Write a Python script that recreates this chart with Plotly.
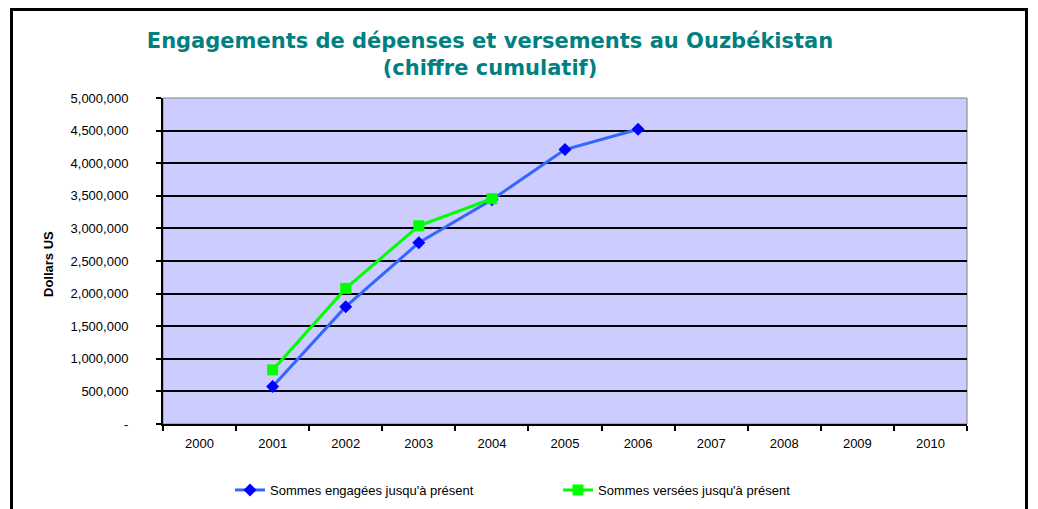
import plotly.graph_objects as go

# ── Data ──────────────────────────────────────────────────────────────────────
YEARS = ["2000", "2001", "2002", "2003", "2004", "2005",
         "2006", "2007", "2008", "2009", "2010"]

ENGAGED_YEARS = ["2001", "2002", "2003", "2004", "2005", "2006"]
ENGAGED = [575000, 1800000, 2780000, 3440000, 4210000, 4520000]

PAID_YEARS = ["2001", "2002", "2003", "2004"]
PAID = [830000, 2080000, 3040000, 3455000]

Y_TICKS = [0, 500000, 1000000, 1500000, 2000000, 2500000,
           3000000, 3500000, 4000000, 4500000, 5000000]
Y_LABELS = ["-"] + [f"{v:,}" for v in Y_TICKS[1:]]

TITLE = "Engagements de dépenses et versements au Ouzbékistan<br>(chiffre cumulatif)"

# ── Styling ───────────────────────────────────────────────────────────────────
TEAL = "#008080"
PLOT_BG = "#CCCCFF"
FONT = "Liberation Sans, Arial, sans-serif"

W, H = 1038, 509
L, R, T, B = 163, 71, 98, 85
PW, PH = W - L - R, H - T - B


def px_x(x):
    return (x - L) / PW


def px_y(y):
    return (H - B - y) / PH


fig = go.Figure()

fig.add_trace(go.Scatter(
    x=ENGAGED_YEARS, y=ENGAGED,
    mode="lines+markers",
    line=dict(color="#3366FF", width=3),
    marker=dict(symbol="diamond", size=10, color="#0000FF"),
    name="Sommes engagées jusqu'à présent",
))

fig.add_trace(go.Scatter(
    x=PAID_YEARS, y=PAID,
    mode="lines+markers",
    line=dict(color="#00FF00", width=3),
    marker=dict(symbol="square", size=11, color="#00FF00"),
    name="Sommes versées jusqu'à présent",
))

# ── Frame around the chart + plot area border ─────────────────────────────────
fig.add_shape(
    type="rect", xref="paper", yref="paper",
    x0=px_x(11.5), x1=px_x(1026.5), y0=px_y(530), y1=px_y(9.5),
    line=dict(color="black", width=3), layer="below",
)
fig.add_shape(
    type="rect", xref="paper", yref="paper",
    x0=0, x1=1, y0=0, y1=1,
    line=dict(color="#808080", width=1), layer="below",
)

fig.add_annotation(
    text="<b>Dollars US</b>", xref="paper", yref="paper",
    x=px_x(48), y=px_y(264), xanchor="center", yanchor="middle",
    textangle=-90, showarrow=False,
    font=dict(family=FONT, size=13, color="black"),
)

fig.update_layout(
    width=W, height=H,
    margin=dict(l=L, r=R, t=T, b=B, autoexpand=False),
    paper_bgcolor="white",
    plot_bgcolor=PLOT_BG,
    font=dict(family=FONT, size=13, color="black"),
    title=dict(
        text=f"<b>{TITLE}</b>",
        font=dict(family="DejaVu Sans", size=21, color=TEAL),
        xref="paper", x=px_x(490), xanchor="center",
        yref="container", y=1 - 48 / H, yanchor="middle",
    ),
    xaxis=dict(
        type="category", categoryorder="array", categoryarray=YEARS,
        range=[-0.5, 10.5],
        tickson="boundaries", ticks="outside", ticklen=5,
        tickcolor="black", tickwidth=2,
        ticklabelstandoff=6,
        showline=True, linecolor="black", linewidth=2,
        showgrid=False, zeroline=False, automargin=False,
        tickfont=dict(size=13),
    ),
    yaxis=dict(
        range=[0, 5000000],
        tickvals=Y_TICKS, ticktext=Y_LABELS,
        ticks="outside", ticklen=5, tickcolor="black", tickwidth=2,
        ticklabelstandoff=25,
        showline=True, linecolor="black", linewidth=2,
        showgrid=True, gridcolor="black", gridwidth=2,
        zeroline=False, automargin=False,
        tickfont=dict(size=13),
    ),
    legend=dict(
        orientation="h",
        x=px_x(230), xanchor="left",
        y=px_y(490), yanchor="middle",
        entrywidth=283,
        font=dict(size=13),
        bgcolor="rgba(0,0,0,0)",
    ),
    showlegend=True,
)

fig.write_html(
    "out.html",
    config={"displayModeBar": False},
    post_script="document.body.style.margin='0';",
)
